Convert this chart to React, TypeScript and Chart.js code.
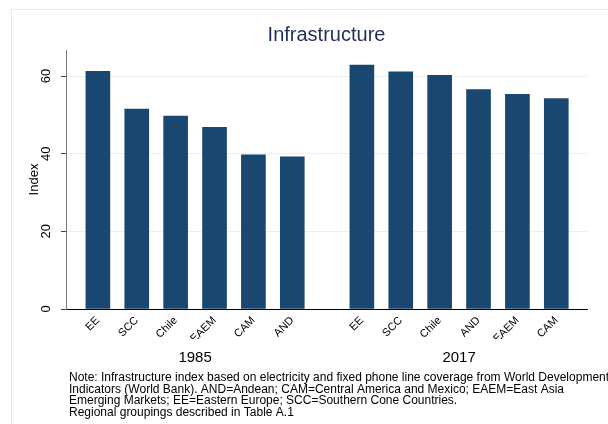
import React, { useEffect, useRef } from 'react';
import { Chart, registerables } from 'chart.js';

Chart.register(...registerables);

const TITLE = 'Infrastructure';
const Y_LABEL = 'Index';
const GROUPS = ['1985', '2017'];
const CATS_1985 = ['EE', 'SCC', 'Chile', 'EAEM', 'CAM', 'AND'];
const VALS_1985 = [61.2, 51.5, 49.7, 46.8, 39.7, 39.2];
const CATS_2017 = ['EE', 'SCC', 'Chile', 'AND', 'EAEM', 'CAM'];
const VALS_2017 = [62.8, 61.1, 60.2, 56.5, 55.3, 54.2];
const Y_TICKS = [0, 20, 40, 60];
const NOTE_LINES = [
  'Note: Infrastructure index based on electricity and fixed phone line coverage from World Development',
  'Indicators (World Bank). AND=Andean; CAM=Central America and Mexico; EAEM=East Asia',
  'Emerging Markets; EE=Eastern Europe; SCC=Southern Cone Countries.',
  'Regional groupings described in Table A.1',
];

const GROUP_GAP = 0.79; // extra spacing (in bar slots) between the two groups
const BAR_COLOR = '#1a476f';
const FONT = '"Liberation Sans", Arial, Helvetica, sans-serif';

const groupCats = [CATS_1985, CATS_2017];
const groupVals = [VALS_1985, VALS_2017];

const allLabels: string[] = [];
const points: { x: number; y: number }[] = [];
const groupPositions: number[][] = [];
groupCats.forEach((cats, g) => {
  const pos: number[] = [];
  cats.forEach((c, i) => {
    const x = g * (cats.length + GROUP_GAP) + i;
    allLabels.push(c);
    points.push({ x, y: groupVals[g][i] });
    pos.push(x);
  });
  groupPositions.push(pos);
});

const extrasPlugin = {
  id: 'extras',
  beforeDraw(chart: any) {
    const { ctx } = chart;
    ctx.save();
    ctx.fillStyle = '#ffffff';
    ctx.fillRect(0, 0, chart.width, chart.height);
    ctx.strokeStyle = '#e2ebef';
    ctx.lineWidth = 1;
    ctx.strokeRect(11.5, 9.5, 800, 600);
    ctx.restore();
  },
  afterDraw(chart: any) {
    const { ctx, chartArea } = chart;
    const xs = chart.scales.x;
    ctx.save();
    // title
    ctx.fillStyle = '#1e2f58';
    ctx.font = `20px ${FONT}`;
    ctx.textAlign = 'center';
    ctx.textBaseline = 'alphabetic';
    ctx.fillText(TITLE, (chartArea.left + chartArea.right) / 2, 41);
    // group labels
    ctx.fillStyle = '#000';
    ctx.font = `15px ${FONT}`;
    groupPositions.forEach((pos, g) => {
      const a = xs.getPixelForValue(pos[0]);
      const b = xs.getPixelForValue(pos[pos.length - 1]);
      ctx.fillText(GROUPS[g], (a + b) / 2, 362);
    });
    // note
    ctx.font = `12px ${FONT}`;
    ctx.textAlign = 'left';
    NOTE_LINES.forEach((line, i) => {
      ctx.fillText(line, 69, 381 + i * 11.5);
    });
    ctx.restore();
  },
};

export default function App() {
  const ref = useRef<HTMLCanvasElement>(null);
  useEffect(() => {
    document.body.style.margin = '0';
    const chart = new Chart(ref.current as HTMLCanvasElement, {
      type: 'bar',
      data: {
        datasets: [
          {
            data: points,
            backgroundColor: BAR_COLOR,
            borderWidth: 0,
            barThickness: 24,
          },
        ],
      },
      options: {
        animation: false,
        responsive: false,
        maintainAspectRatio: false,
        layout: { padding: { left: 0, top: 50, right: 21, bottom: 85 } },
        plugins: {
          legend: { display: false },
          tooltip: { enabled: false },
        },
        scales: {
          x: {
            type: 'linear',
            offset: false,
            min: -0.82,
            max: 12.58,
            afterBuildTicks: (scale: any) => {
              scale.ticks = points.map((p) => ({ value: p.x }));
            },
            afterFit: (scale: any) => {
              scale.height = 30;
            },
            grid: { display: false, drawTicks: false, offset: false },
            border: { display: true, color: '#000', width: 1 },
            ticks: {
              autoSkip: false,
              minRotation: 45,
              maxRotation: 45,
              padding: 5,
              color: '#000',
              font: { family: FONT, size: 11 },
              callback: (_v: any, i: number) => allLabels[i],
            },
          },
          y: {
            min: 0,
            max: 66.7,
            afterBuildTicks: (scale: any) => {
              scale.ticks = Y_TICKS.map((v) => ({ value: v }));
            },
            afterFit: (scale: any) => {
              scale.width = 66;
            },
            grid: {
              color: (c: any) => (c.tick && c.tick.value === 0 ? 'rgba(0,0,0,0)' : '#e9f0f3'),
              tickColor: '#444',
              tickLength: 5,
              lineWidth: 1,
            },
            border: { display: true, color: '#7a7a7a', width: 1 },
            title: {
              display: true,
              text: Y_LABEL,
              color: '#000',
              font: { family: FONT, size: 13 },
              padding: { top: 27, bottom: 0 },
            },
            ticks: {
              minRotation: 90,
              maxRotation: 90,
              crossAlign: 'center',
              padding: 7,
              color: '#000',
              font: { family: FONT, size: 13 },
            },
          },
        },
      },
      plugins: [extrasPlugin],
    } as any);
    return () => chart.destroy();
  }, []);
  return (
    <div style={{ position: 'relative', width: 608, height: 424, overflow: 'hidden' }}>
      <canvas ref={ref} width={608} height={424} style={{ display: 'block', width: 608, height: 424 }} />
    </div>
  );
}
